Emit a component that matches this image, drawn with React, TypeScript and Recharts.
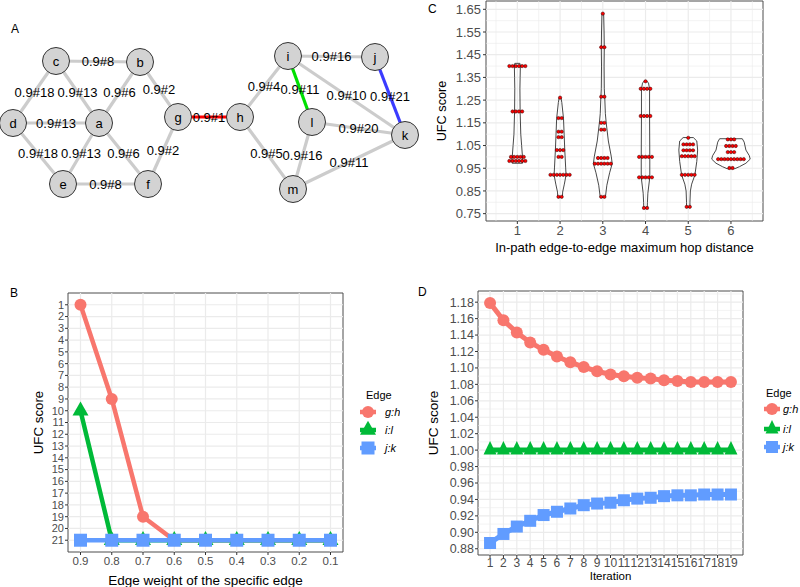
import React from 'react';
import { ScatterChart, Scatter, LineChart, Line, XAxis, YAxis, ReferenceLine, ReferenceArea, Legend } from 'recharts';

const FONT = '"Liberation Sans", Arial, Helvetica, sans-serif';

// ---------------- Panel A: network ----------------
const nodeNames = ['a', 'b', 'c', 'd', 'e', 'f', 'g', 'h', 'i', 'j', 'k', 'l', 'm'];
const nodeLayoutX = [99, 140, 56, 13, 63, 148, 178, 240, 288, 375, 405, 312, 293];
const nodeLayoutY = [123, 62, 61, 123, 184, 184, 117, 117, 56, 57, 135, 122, 189];
const edgeFrom = ['c', 'c', 'c', 'b', 'b', 'd', 'd', 'a', 'a', 'e', 'f', 'g', 'h', 'h', 'i', 'i', 'i', 'j', 'l', 'l', 'm'];
const edgeTo = ['b', 'd', 'a', 'a', 'g', 'a', 'e', 'e', 'f', 'f', 'g', 'h', 'i', 'm', 'j', 'l', 'k', 'k', 'k', 'm', 'k'];
const edgeWeights = [0.9, 0.9, 0.9, 0.9, 0.9, 0.9, 0.9, 0.9, 0.9, 0.9, 0.9, 0.9, 0.9, 0.9, 0.9, 0.9, 0.9, 0.9, 0.9, 0.9, 0.9];
const edgeRanks = [8, 18, 13, 6, 2, 13, 18, 13, 6, 8, 2, 1, 4, 5, 16, 11, 10, 21, 20, 16, 11];

// ---------------- Panel B ----------------
const weightLevels = [0.9, 0.8, 0.7, 0.6, 0.5, 0.4, 0.3, 0.2, 0.1];
const rankGH = [1, 9, 19, 21, 21, 21, 21, 21, 21];
const rankIL = [10, 21, 21, 21, 21, 21, 21, 21, 21];
const rankJK = [21, 21, 21, 21, 21, 21, 21, 21, 21];
const rankTicks = [1, 2, 3, 4, 5, 6, 7, 8, 9, 10, 11, 12, 13, 14, 15, 16, 17, 18, 19, 20, 21];

// ---------------- Panel C ----------------
const hopDistances = [1, 2, 3, 4, 5, 6];
const ufcTicksC = [0.75, 0.85, 0.95, 1.05, 1.15, 1.25, 1.35, 1.45, 1.55, 1.65];
const hop1Levels = [1.40, 1.20, 1.00, 0.982];
const hop1Counts = [6, 4, 5, 6];
const hop2Levels = [1.261, 1.171, 1.111, 1.087, 1.030, 1.000, 0.921, 0.824];
const hop2Counts = [1, 2, 2, 2, 3, 2, 7, 2];
const hop3Levels = [1.631, 1.483, 1.265, 1.150, 1.120, 0.995, 0.970, 0.824];
const hop3Counts = [1, 2, 2, 2, 2, 4, 6, 2];
const hop4Levels = [1.333, 1.300, 1.180, 1.000, 0.910, 0.775];
const hop4Counts = [1, 4, 4, 5, 5, 2];
const hop5Levels = [1.084, 1.055, 1.029, 1.003, 0.921, 0.780];
const hop5Counts = [1, 4, 4, 5, 5, 2];
const hop6Levels = [1.077, 1.048, 1.021, 0.990, 0.951];
const hop6Counts = [3, 4, 3, 9, 2];
// violin outlines: [score, half-width]
const hop1Violin = [[1.412, 0.06], [1.40, 0.07], [1.35, 0.065], [1.30, 0.06], [1.20, 0.065], [1.10, 0.08], [1.05, 0.10], [1.00, 0.12], [0.985, 0.125], [0.972, 0.12]];
const hop2Violin = [[1.262, 0.02], [1.24, 0.04], [1.17, 0.08], [1.10, 0.095], [1.03, 0.11], [0.955, 0.13], [0.92, 0.14], [0.88, 0.10], [0.845, 0.06], [0.822, 0.055]];
const hop3Violin = [[1.632, 0.02], [1.55, 0.03], [1.48, 0.035], [1.40, 0.03], [1.30, 0.035], [1.265, 0.045], [1.19, 0.06], [1.15, 0.08], [1.07, 0.13], [1.00, 0.20], [0.97, 0.22], [0.93, 0.16], [0.875, 0.095], [0.822, 0.06]];
const hop4Violin = [[1.334, 0.03], [1.325, 0.07], [1.30, 0.095], [1.18, 0.095], [1.00, 0.10], [0.91, 0.10], [0.84, 0.055], [0.80, 0.045], [0.775, 0.04]];
const hop5Violin = [[1.085, 0.12], [1.07, 0.20], [1.03, 0.22], [0.98, 0.20], [0.92, 0.155], [0.88, 0.08], [0.85, 0.05], [0.80, 0.04], [0.778, 0.04]];
const hop6Violin = [[1.08, 0.265], [1.065, 0.31], [1.03, 0.35], [1.005, 0.43], [0.99, 0.45], [0.972, 0.35], [0.957, 0.20], [0.948, 0.09]];

// ---------------- Panel D ----------------
const iterations = [1, 2, 3, 4, 5, 6, 7, 8, 9, 10, 11, 12, 13, 14, 15, 16, 17, 18, 19];
const ufcGH = [1.179, 1.158, 1.143, 1.131, 1.122, 1.114, 1.107, 1.101, 1.096, 1.092, 1.090, 1.088, 1.087, 1.085, 1.084, 1.083, 1.083, 1.083, 1.083];
const ufcIL = [1.00, 1.00, 1.00, 1.00, 1.00, 1.00, 1.00, 1.00, 1.00, 1.00, 1.00, 1.00, 1.00, 1.00, 1.00, 1.00, 1.00, 1.00, 1.00];
const ufcJK = [0.887, 0.898, 0.907, 0.914, 0.921, 0.925, 0.929, 0.933, 0.935, 0.936, 0.939, 0.941, 0.942, 0.944, 0.945, 0.945, 0.946, 0.946, 0.946];
const ufcTicksD = [0.88, 0.90, 0.92, 0.94, 0.96, 0.98, 1.00, 1.02, 1.04, 1.06, 1.08, 1.10, 1.12, 1.14, 1.16, 1.18];

const edgeNames = ['g:h', 'i:l', 'j:k'];

// ---------------- styles ----------------
const RED = '#F8766D';
const GREEN = '#00BA38';
const BLUE = '#619CFF';
const GRID = '#EBEBEB';
const BORDER = '#4D4D4D';
const TICKTXT = '#4D4D4D';
const highlightEdges: Record<string, string> = { 'g-h': '#FF0000', 'i-l': '#00E000', 'j-k': '#3B3BFF' };

const midpoints = (ticks: number[], lo: number, hi: number) => {
  const step = ticks[1] - ticks[0];
  const out: number[] = [];
  for (let i = -1; i < ticks.length; i++) {
    const v = ticks[0] + step * (i + 0.5);
    if (v > lo && v < hi) out.push(+v.toFixed(4));
  }
  return out;
};

const YTitle = (p: any) => {
  const { viewBox, text, dx, fontSize } = p;
  if (!viewBox) return null;
  const x = viewBox.x + dx;
  const y = viewBox.y + viewBox.height / 2;
  return (
    <text x={x} y={y} transform={`rotate(-90 ${x} ${y})`} textAnchor="middle" dominantBaseline="central" fontSize={fontSize} fontFamily={FONT} fill="#000">
      {text}
    </text>
  );
};

const XTitle = (p: any) => {
  const { viewBox, text, dy, fontSize } = p;
  if (!viewBox) return null;
  const x = viewBox.x + viewBox.width / 2;
  const y = viewBox.y + dy;
  return (
    <text x={x} y={y} textAnchor="middle" dominantBaseline="central" fontSize={fontSize} fontFamily={FONT} fill="#000">
      {text}
    </text>
  );
};

type MarkSize = { r: number; sq: number; tw: number; th: number };

const renderMarker = (i: number, cx: number, cy: number, color: string, s: MarkSize, key?: any) => {
  if (i === 0) return <circle key={key} cx={cx} cy={cy} r={s.r} fill={color} />;
  if (i === 1) {
    const d = `M${cx - s.tw / 2},${cy + s.th / 3} L${cx + s.tw / 2},${cy + s.th / 3} L${cx},${cy - (2 * s.th) / 3} Z`;
    return <path key={key} d={d} fill={color} />;
  }
  return <rect key={key} x={cx - s.sq / 2} y={cy - s.sq / 2} width={s.sq} height={s.sq} fill={color} />;
};

const EdgeLegend = (p: any) => {
  const { payload, dims, size } = p;
  const items = (payload && payload.length ? payload : edgeNames.map((n, i) => ({ value: n, color: [RED, GREEN, BLUE][i] })));
  return (
    <svg width={dims.w} height={dims.h} style={{ display: 'block', overflow: 'visible' }}>
      <text x={dims.titleX} y={dims.titleY} dominantBaseline="central" fontSize={11} fontFamily={FONT} fill="#000">Edge</text>
      {items.map((it: any, i: number) => {
        const y = dims.rows[i];
        return (
          <g key={i}>
            <line x1={dims.keyX - 8} x2={dims.keyX + 8} y1={y} y2={y} stroke={it.color} strokeWidth={4.5} />
            {renderMarker(i, dims.keyX, y, it.color, size)}
            <text x={dims.labelX} y={y} dominantBaseline="central" fontSize={11} fontStyle="italic" fontFamily={FONT} fill="#000">{it.value}</text>
          </g>
        );
      })}
    </svg>
  );
};

// ---------------- Panel A ----------------
const PanelA = () => {
  const nodes = nodeNames.map((n, i) => ({ name: n, x: nodeLayoutX[i], y: nodeLayoutY[i] }));
  const pos: Record<string, { x: number; y: number }> = {};
  nodes.forEach((n) => (pos[n.name] = n));
  const edges = edgeFrom.map((f, i) => ({
    key: `${f}-${edgeTo[i]}`,
    label: `${edgeWeights[i]}#${edgeRanks[i]}`,
    a: pos[f],
    b: pos[edgeTo[i]],
    x: (pos[f].x + pos[edgeTo[i]].x) / 2,
    y: (pos[f].y + pos[edgeTo[i]].y) / 2,
  }));
  return (
    <ScatterChart width={430} height={210} margin={{ top: 0, right: 0, bottom: 0, left: 0 }}>
      <XAxis type="number" dataKey="x" domain={[0, 430]} hide />
      <YAxis type="number" dataKey="y" domain={[0, 210]} reversed hide />
      {edges.map((e) => (
        <Scatter
          key={e.key}
          data={[{ x: e.a.x, y: e.a.y }, { x: e.b.x, y: e.b.y }]}
          line={{ stroke: highlightEdges[e.key] || '#CCCCCC', strokeWidth: 3.2 }}
          shape={() => <g />}
          isAnimationActive={false}
        />
      ))}
      <Scatter
        data={edges.map((e) => ({ x: e.x, y: e.y, label: e.label }))}
        isAnimationActive={false}
        shape={(p: any) => (
          <text x={p.cx} y={p.cy} textAnchor="middle" dominantBaseline="central" fontSize={13} fontFamily={FONT} fill="#000">
            {p.payload.label}
          </text>
        )}
      />
      <Scatter
        data={nodes}
        isAnimationActive={false}
        shape={(p: any) => (
          <g>
            <circle cx={p.cx} cy={p.cy} r={13.5} fill="#D3D3D3" stroke="#333" strokeWidth={1} />
            <text x={p.cx} y={p.cy} textAnchor="middle" dominantBaseline="central" fontSize={13} fontFamily={FONT} fill="#000">
              {p.payload.name}
            </text>
          </g>
        )}
      />
    </ScatterChart>
  );
};

// ---------------- Panel B ----------------
const PanelB = () => {
  const data = weightLevels.map((w, i) => ({ w, gh: rankGH[i], il: rankIL[i], jk: rankJK[i] }));
  const size: MarkSize = { r: 6, sq: 13, tw: 16, th: 14 };
  const colors = [RED, GREEN, BLUE];
  const keys = ['gh', 'il', 'jk'];
  return (
    <LineChart width={400} height={297} data={data} margin={{ top: 3, right: 57, bottom: 0, left: 0 }}>
      <XAxis
        type="number" dataKey="w" domain={[0.06, 0.94]} reversed ticks={weightLevels} interval={0}
        tickFormatter={(v: number) => v.toFixed(1)} height={35} tickSize={3} tickMargin={2}
        tickLine={{ stroke: '#333' }} axisLine={false} allowDataOverflow
        tick={{ fontSize: 11.5, fill: TICKTXT, fontFamily: FONT }}
        label={<XTitle text="Edge weight of the specific edge" dy={28} fontSize={13.5} />}
      />
      <YAxis
        type="number" domain={[0, 22]} reversed ticks={rankTicks} interval={0} width={68} tickSize={3} tickMargin={1}
        tickLine={{ stroke: '#333' }} axisLine={false} allowDataOverflow
        tick={{ fontSize: 11, fill: TICKTXT, fontFamily: FONT }}
        label={<YTitle text="UFC score" dx={38} fontSize={13.3} />}
      />
      {weightLevels.map((v) => <ReferenceLine key={`gx${v}`} x={v} stroke={GRID} strokeWidth={1.2} />)}
      {rankTicks.map((v) => <ReferenceLine key={`gy${v}`} y={v} stroke={GRID} strokeWidth={1.2} />)}
      {keys.map((k, si) => (
        <Line
          key={k} dataKey={k} name={edgeNames[si]} stroke={colors[si]} strokeWidth={4.5} isAnimationActive={false} activeDot={false}
          dot={(p: any) => renderMarker(si, p.cx, p.cy, colors[si], size, `${k}${p.index}`)}
        />
      ))}
      <ReferenceArea x1={0.06} x2={0.94} y1={0} y2={22} fill="none" fillOpacity={0} stroke={BORDER} strokeWidth={1} />
      <Legend
        layout="horizontal" verticalAlign="middle" align="center"
        wrapperStyle={{ left: 358, top: 90, width: 60, height: 80 }}
        content={<EdgeLegend size={size} dims={{ w: 60, h: 80, titleX: 8, titleY: 15, keyX: 10, labelX: 27, rows: [32, 50, 68] }} />}
      />
    </LineChart>
  );
};

// ---------------- Panel C ----------------
const dotDiam = 0.075;
const buildDots = (g: number, levels: number[], counts: number[]) => {
  const out: { x: number; y: number }[] = [];
  levels.forEach((v, i) => {
    const n = counts[i];
    for (let k = 0; k < n; k++) out.push({ x: g + (k - (n - 1) / 2) * dotDiam, y: v });
  });
  return out;
};
const buildViolin = (g: number, outline: number[][]) => {
  const right = outline.map(([v, w]) => ({ x: g + w, y: v }));
  const left = outline.slice().reverse().map(([v, w]) => ({ x: g - w, y: v }));
  return [...right, ...left, right[0]];
};

const PanelC = () => {
  const levels = [hop1Levels, hop2Levels, hop3Levels, hop4Levels, hop5Levels, hop6Levels];
  const counts = [hop1Counts, hop2Counts, hop3Counts, hop4Counts, hop5Counts, hop6Counts];
  const violins = [hop1Violin, hop2Violin, hop3Violin, hop4Violin, hop5Violin, hop6Violin];
  const xDom: [number, number] = [0.266, 6.75];
  const yDom: [number, number] = [0.7176, 1.6866];
  const xMinor = midpoints(hopDistances, xDom[0], xDom[1]);
  const yMinor = midpoints(ufcTicksC, yDom[0], yDom[1]);
  return (
    <ScatterChart width={400} height={262} margin={{ top: 1, right: 37, bottom: 0, left: 0 }}>
      <XAxis
        type="number" dataKey="x" domain={xDom} ticks={hopDistances} interval={0} height={41} tickSize={3} tickMargin={2}
        tickLine={{ stroke: '#333' }} axisLine={false} allowDataOverflow
        tick={{ fontSize: 13, fill: TICKTXT, fontFamily: FONT }}
        label={<XTitle text="In-path edge-to-edge maximum hop distance" dy={26} fontSize={13} />}
      />
      <YAxis
        type="number" dataKey="y" domain={yDom} ticks={ufcTicksC} interval={0} width={86} tickSize={3} tickMargin={2}
        tickFormatter={(v: number) => v.toFixed(2)} tickLine={{ stroke: '#333' }} axisLine={false} allowDataOverflow
        tick={{ fontSize: 13, fill: TICKTXT, fontFamily: FONT }}
        label={<YTitle text="UFC score" dx={42} fontSize={12.7} />}
      />
      {xMinor.map((v) => <ReferenceLine key={`mx${v}`} x={v} stroke={GRID} strokeWidth={0.6} />)}
      {yMinor.map((v) => <ReferenceLine key={`my${v}`} y={v} stroke={GRID} strokeWidth={0.6} />)}
      {hopDistances.map((v) => <ReferenceLine key={`gx${v}`} x={v} stroke={GRID} strokeWidth={1.2} />)}
      {ufcTicksC.map((v) => <ReferenceLine key={`gy${v}`} y={v} stroke={GRID} strokeWidth={1.2} />)}
      {hopDistances.map((g, i) => (
        <Scatter
          key={`v${g}`} data={buildViolin(g, violins[i])} isAnimationActive={false}
          line={{ stroke: '#333', strokeWidth: 0.9 }} shape={() => <g />}
        />
      ))}
      {hopDistances.map((g, i) => (
        <Scatter
          key={`d${g}`} data={buildDots(g, levels[i], counts[i])} isAnimationActive={false}
          shape={(p: any) => <circle cx={p.cx} cy={p.cy} r={1.65} fill="#FF0000" stroke="#300" strokeWidth={0.5} />}
        />
      ))}
      <ReferenceArea x1={xDom[0]} x2={xDom[1]} y1={yDom[0]} y2={yDom[1]} fill="none" fillOpacity={0} stroke={BORDER} strokeWidth={1} />
    </ScatterChart>
  );
};

// ---------------- Panel D ----------------
const PanelD = () => {
  const data = iterations.map((it, i) => ({ it, gh: ufcGH[i], il: ufcIL[i], jk: ufcJK[i] }));
  const size: MarkSize = { r: 6, sq: 12, tw: 13, th: 13.5 };
  const colors = [RED, GREEN, BLUE];
  const keys = ['gh', 'il', 'jk'];
  const yDom: [number, number] = [0.8724, 1.1936];
  const yMinor = midpoints(ufcTicksD, yDom[0], yDom[1]);
  return (
    <LineChart width={400} height={297} data={data} margin={{ top: 1, right: 57, bottom: 0, left: 0 }}>
      <XAxis
        type="number" dataKey="it" domain={[0.1, 19.9]} ticks={iterations} interval={0} height={32} tickSize={3} tickMargin={0}
        tickLine={{ stroke: '#333' }} axisLine={false} allowDataOverflow
        tick={{ fontSize: 12, fill: TICKTXT, fontFamily: FONT }}
        label={<XTitle text="Iteration" dy={21} fontSize={11.5} />}
      />
      <YAxis
        type="number" domain={yDom} ticks={ufcTicksD} interval={0} width={78} tickSize={3} tickMargin={1}
        tickFormatter={(v: number) => v.toFixed(2)} tickLine={{ stroke: '#333' }} axisLine={false} allowDataOverflow
        tick={{ fontSize: 12.5, fill: TICKTXT, fontFamily: FONT }}
        label={<YTitle text="UFC score" dx={33} fontSize={13.5} />}
      />
      {yMinor.map((v) => <ReferenceLine key={`my${v}`} y={v} stroke={GRID} strokeWidth={0.6} />)}
      {iterations.map((v) => <ReferenceLine key={`gx${v}`} x={v} stroke={GRID} strokeWidth={1.2} />)}
      {ufcTicksD.map((v) => <ReferenceLine key={`gy${v}`} y={v} stroke={GRID} strokeWidth={1.2} />)}
      {keys.map((k, si) => (
        <Line
          key={k} dataKey={k} name={edgeNames[si]} stroke={colors[si]} strokeWidth={5} isAnimationActive={false} activeDot={false}
          dot={(p: any) => renderMarker(si, p.cx, p.cy, colors[si], size, `${k}${p.index}`)}
        />
      ))}
      <ReferenceArea x1={0.1} x2={19.9} y1={yDom[0]} y2={yDom[1]} fill="none" fillOpacity={0} stroke={BORDER} strokeWidth={1} />
      <Legend
        layout="horizontal" verticalAlign="middle" align="center"
        wrapperStyle={{ left: 358, top: 88, width: 42, height: 80 }}
        content={<EdgeLegend size={size} dims={{ w: 42, h: 80, titleX: 8, titleY: 15, keyX: 14, labelX: 25, rows: [31, 51, 69] }} />}
      />
    </LineChart>
  );
};

const tag = (t: string, left: number, top: number) => (
  <div style={{ position: 'absolute', left, top, fontSize: 12, fontFamily: FONT, lineHeight: '14px', color: '#000' }}>{t}</div>
);

export default function App() {
  return (
    <div style={{ position: 'absolute', left: 0, top: 0, width: 800, height: 587, background: '#fff', overflow: 'hidden', fontFamily: FONT }}>
      <div style={{ position: 'absolute', left: 0, top: 0 }}><PanelA /></div>
      <div style={{ position: 'absolute', left: 400, top: 0 }}><PanelC /></div>
      <div style={{ position: 'absolute', left: 0, top: 290, width: 400, overflow: 'hidden' }}><PanelB /></div>
      <div style={{ position: 'absolute', left: 400, top: 290 }}><PanelD /></div>
      {tag('A', 11, 22)}
      {tag('B', 10, 286)}
      {tag('C', 428, 2)}
      {tag('D', 418, 285)}
    </div>
  );
}
